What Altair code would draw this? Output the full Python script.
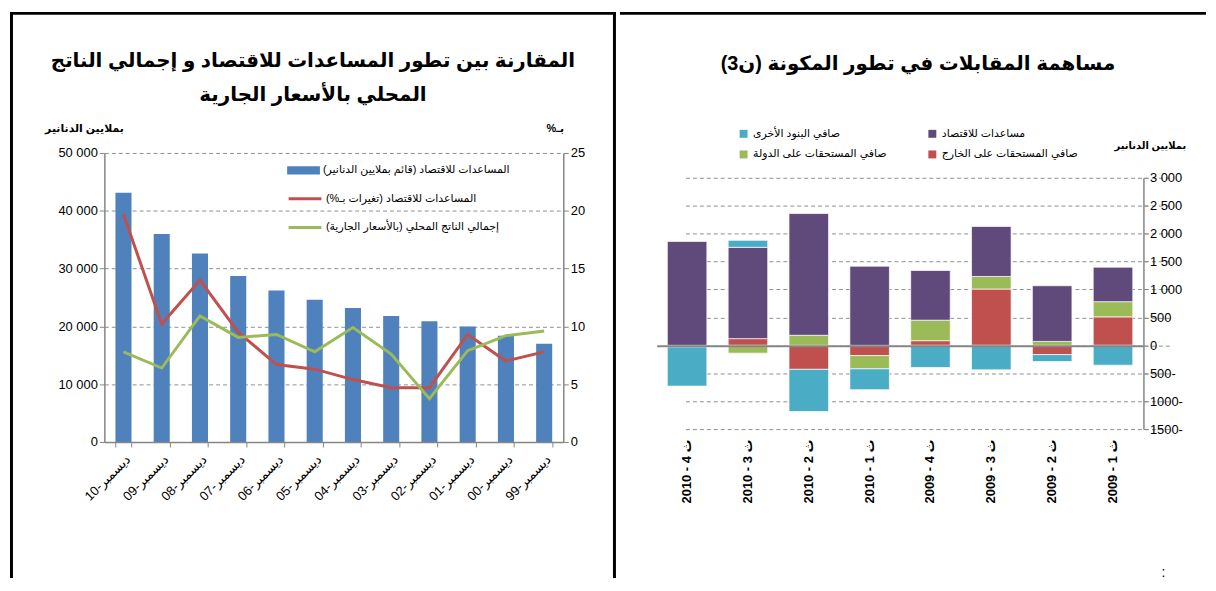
import altair as alt
import pandas as pd

RLE, PDF = "\u202b", "\u202c"


def rtl(s):
    return RLE + s + PDF


FONT = "Liberation Sans, DejaVu Sans, sans-serif"

# ---------------- left panel data ----------------
months = ["ديسمبر-10", "ديسمبر-09", "ديسمبر-08", "ديسمبر-07", "ديسمبر-06", "ديسمبر-05",
          "ديسمبر-04", "ديسمبر-03", "ديسمبر-02", "ديسمبر-01", "ديسمبر-00", "ديسمبر-99"]
credit_level = [43100, 36000, 32600, 28700, 26200, 24600, 23200, 21800, 20900, 20000, 18400, 17000]
credit_change = [19.7, 10.2, 14.0, 9.5, 6.7, 6.3, 5.4, 4.7, 4.7, 9.3, 7.0, 7.8]
gdp_change = [7.8, 6.4, 10.9, 9.05, 9.3, 7.8, 9.9, 7.6, 3.75, 7.9, 9.2, 9.6]

left_title = ["المقارنة بين تطور المساعدات للاقتصاد و إجمالي الناتج", "المحلي بالأسعار الجارية"]
left_unit = "بملايين الدنانير"
left_pct = "بـ%"
bar_name = "المساعدات للاقتصاد (قائم بملايين الدنانير)"
line_names = ["المساعدات للاقتصاد (تغيرات بـ%)", "إجمالي الناتج المحلي (بالأسعار الجارية)"]
left_ticks = [0, 10000, 20000, 30000, 40000, 50000]
pct_ticks = [0, 5, 10, 15, 20, 25]

# ---------------- right panel data ----------------
quarters = ["2010 - 4 ث", "2010 - 3 ث", "2010 - 2 ث", "2010 - 1 ث",
            "2009 - 4 ث", "2009 - 3 ث", "2009 - 2 ث", "2009 - 1 ث"]
series_names = ["صافي المستحقات على الخارج", "صافي المستحقات على الدولة",
                "مساعدات للاقتصاد", "صافي البنود الأخرى"]
net_foreign = [-30, 120, -430, -184, 83, 1008, -166, 510]
net_state = [0, -140, 180, -237, 367, 225, 70, 272]
credit_econ = [1860, 1635, 2180, 1417, 890, 895, 997, 617]
net_other = [-700, 125, -755, -373, -397, -439, -124, -356]
right_ticks = [-1500, -1000, -500, 0, 500, 1000, 1500, 2000, 2500, 3000]
right_title = "مساهمة المقابلات في تطور المكونة (ن3)"
right_unit = "بملايين الدنانير"
colon = ":"

# ---------------- colours / layout ----------------
BLUE, RED, GREEN, PURPLE, CYAN = "#4F81BD", "#C0504D", "#9BBB59", "#604A7B", "#4BACC6"
AXC = "#868686"
GRIDC = "#8f8f8f"
H = 570
W_L, W_R = 610, 590
LX0, LX1, LY0, LY1 = 95, 557, 433, 142
RX0, RX1, RY0, RY1 = 37, 527, 420, 167

months_d = [rtl(m) for m in months]

dfL = pd.DataFrame({"month": months_d, "level": credit_level, "s": [rtl(bar_name)] * len(months)})
rows = []
for i, m in enumerate(months_d):
    rows.append({"month": m, "val": credit_change[i], "series": rtl(line_names[0])})
    rows.append({"month": m, "val": gdp_change[i], "series": rtl(line_names[1])})
dfLines = pd.DataFrame(rows)

xL = alt.X("month:N", sort=months_d, title=None,
           scale=alt.Scale(range=[LX0, LX1], paddingInner=0.58, paddingOuter=0.29),
           axis=alt.Axis(orient="bottom", offset=-(H - LY0), labelAngle=-45, labelFontSize=13,
                         labelFont=FONT, labelColor="black", labelPadding=6,
                         domainColor=AXC, domainWidth=1.5, tickColor=AXC, tickSize=5,
                         tickBand="extent", grid=False, zindex=1))

bars = alt.Chart(dfL).mark_bar().encode(
    x=xL,
    y=alt.Y("level:Q", title=None,
            scale=alt.Scale(domain=[0, 50000], range=[LY0, LY1], nice=False),
            axis=alt.Axis(orient="left", offset=-LX0, values=left_ticks,
                          labelExpr="replace(format(datum.value, ','), ',', ' ')",
                          labelFontSize=13, labelFont=FONT, labelColor="black",
                          domainColor=AXC, domainWidth=1.5, tickColor=AXC, tickSize=5,
                          grid=True, gridDash=[4, 3], gridColor=GRIDC, gridWidth=1)),
    color=alt.Color("s:N", scale=alt.Scale(domain=[rtl(bar_name)], range=[BLUE]),
                    legend=alt.Legend(orient="none", legendX=279, legendY=143, title=None,
                                      symbolType="M-1,-0.25H1V0.25H-1Z", symbolSize=1089,
                                      symbolStrokeWidth=0, labelFontSize=11, labelFont=FONT,
                                      labelColor="black", labelLimit=400, labelOffset=3, padding=0)),
)

lines = alt.Chart(dfLines).mark_line(strokeWidth=3).encode(
    x=xL,
    y=alt.Y("val:Q", title=None,
            scale=alt.Scale(domain=[0, 25], range=[LY0, LY1], nice=False),
            axis=alt.Axis(orient="right", offset=-(W_L - LX1), values=pct_ticks,
                          labelFontSize=13, labelFont=FONT, labelColor="black",
                          domainColor=AXC, domainWidth=1.5, tickColor=AXC, tickSize=5, grid=False)),
    color=alt.Color("series:N", scale=alt.Scale(domain=[rtl(n) for n in line_names], range=[RED, GREEN]),
                    legend=alt.Legend(orient="none", legendX=279, legendY=170, title=None,
                                      symbolType="stroke", symbolSize=1089, symbolStrokeWidth=3,
                                      labelFontSize=11, labelFont=FONT, labelColor="black",
                                      labelLimit=400, labelOffset=3, rowPadding=5, padding=0)),
)


def text_layer(txt, x, y, size, bold=True, align="center"):
    return alt.Chart(pd.DataFrame({"t": [txt]})).mark_text(
        font=FONT, fontSize=size, fontWeight="bold" if bold else "normal",
        align=align, baseline="middle", color="black").encode(
        text="t:N", x=alt.value(x), y=alt.value(y))


def frame_h(w):
    return alt.Chart(pd.DataFrame({"a": [0]})).mark_rule(color="black", strokeWidth=3).encode(
        x=alt.value(0), x2=alt.value(w), y=alt.value(1.5))


def frame_v(x):
    return alt.Chart(pd.DataFrame({"a": [0]})).mark_rule(color="black", strokeWidth=3).encode(
        x=alt.value(x), y=alt.value(0), y2=alt.value(H))


left = alt.layer(
    bars, lines,
    text_layer(rtl(left_title[0]), 305, 49, 20),
    text_layer(rtl(left_title[1]), 305, 84, 20),
    text_layer(rtl(left_unit), 75, 118, 11),
    text_layer(rtl(left_pct), 549, 118, 11),
    frame_h(W_L), frame_v(1.5), frame_v(W_L - 1.5),
).resolve_scale(y="independent", color="independent").properties(width=W_L, height=H)

# ---------------- right panel ----------------
vals = [net_foreign, net_state, credit_econ, net_other]
rrows = []
for si, n in enumerate(series_names):
    for qi, q in enumerate(quarters):
        rrows.append({"q": q, "v": vals[si][qi], "s": rtl(n), "ord": si})
dfR = pd.DataFrame(rrows)

legend_order = [series_names[3], series_names[1], series_names[2], series_names[0]]
legend_colors = [CYAN, GREEN, PURPLE, RED]

rbars = alt.Chart(dfR).mark_bar(stroke="white", strokeWidth=0.7).encode(
    x=alt.X("q:N", sort=quarters, title=None,
            scale=alt.Scale(range=[RX0, RX1], paddingInner=0.35, paddingOuter=0.175),
            axis=alt.Axis(orient="bottom", offset=-(H - RY0) - 84, labelAngle=-90,
                          labelFontSize=13, labelFontWeight="bold", labelFont=FONT,
                          labelColor="black", labelPadding=94, domainColor=AXC, domainWidth=2,
                          ticks=False, grid=False, zindex=1)),
    y=alt.Y("v:Q", title=None, stack="zero",
            scale=alt.Scale(domain=[-1500, 3000], range=[RY0, RY1], nice=False),
            axis=alt.Axis(orient="right", offset=-(W_R - RX1), values=right_ticks,
                          labelExpr="datum.value < 0 ? (-datum.value) + '-' : replace(format(datum.value, ','), ',', ' ')",
                          labelFontSize=13, labelFont=FONT, labelColor="black",
                          domainColor=AXC, domainWidth=1.5, tickColor=AXC, tickSize=4,
                          grid=True, gridDash=[4, 3], gridColor=GRIDC, gridWidth=1)),
    order=alt.Order("ord:Q", sort="ascending"),
    color=alt.Color("s:N", scale=alt.Scale(domain=[rtl(n) for n in legend_order], range=legend_colors),
                    legend=alt.Legend(orient="none", legendX=W_L + 123, legendY=117, title=None, columns=2,
                                      columnPadding=40, rowPadding=9, symbolType="square",
                                      symbolSize=64, symbolStrokeWidth=0, labelFontSize=11,
                                      labelFont=FONT, labelColor="black", labelLimit=400,
                                      labelOffset=4, padding=0)),
)

right = alt.layer(
    rbars,
    text_layer(rtl(right_title), 300, 52, 20),
    text_layer(rtl(right_unit), 534, 135, 10),
    text_layer(colon, 547, 565, 14, bold=False),
    frame_h(W_R),
).properties(width=W_R, height=H)

chart = alt.hconcat(left, right, spacing=0).properties(padding=0).configure_view(stroke=None)

chart.save("out.html", embed_options={"renderer": "svg", "actions": False})
